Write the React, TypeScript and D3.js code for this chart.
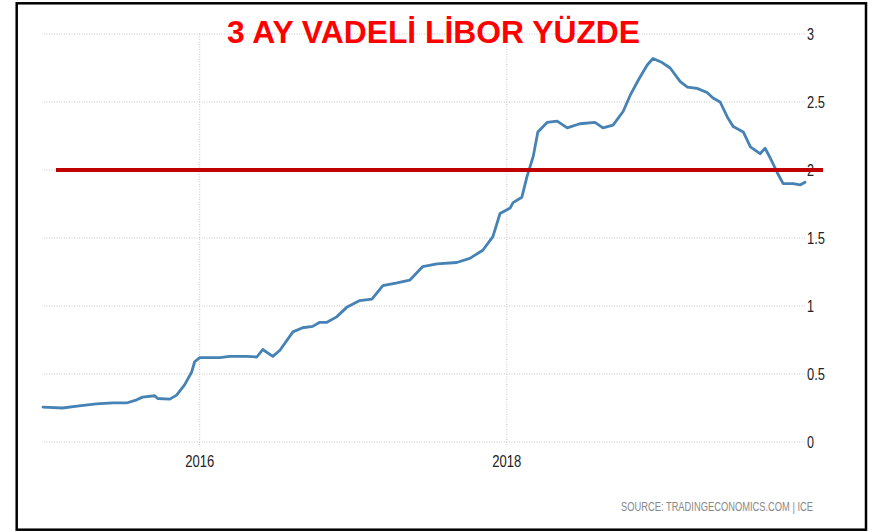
import React from "react";
import * as d3 from "d3";

const dates: string[] = [
  "2014-12-24", "2015-02-08", "2015-03-20", "2015-04-30", "2015-06-08", "2015-07-11",
  "2015-08-04", "2015-08-18", "2015-09-16", "2015-09-23", "2015-10-22", "2015-11-07",
  "2015-11-26", "2015-12-13", "2015-12-20", "2016-01-01", "2016-01-25", "2016-02-18",
  "2016-03-12", "2016-04-22", "2016-05-16", "2016-05-30", "2016-06-23", "2016-07-10",
  "2016-08-10", "2016-09-02", "2016-09-26", "2016-10-13", "2016-10-30", "2016-11-22",
  "2016-12-16", "2017-01-16", "2017-02-14", "2017-03-12", "2017-04-15", "2017-05-15",
  "2017-06-15", "2017-07-19", "2017-09-04", "2017-10-05", "2017-11-05", "2017-11-29",
  "2017-12-16", "2018-01-09", "2018-01-16", "2018-02-06", "2018-02-18", "2018-03-05",
  "2018-03-16", "2018-04-07", "2018-05-01", "2018-05-25", "2018-06-24", "2018-07-30",
  "2018-08-18", "2018-09-11", "2018-10-05", "2018-10-22", "2018-11-10", "2018-12-01",
  "2018-12-15", "2019-01-06", "2019-01-25", "2019-02-18", "2019-03-07", "2019-03-30",
  "2019-04-23", "2019-05-07", "2019-05-24", "2019-06-10", "2019-06-24", "2019-07-18",
  "2019-08-04", "2019-08-27", "2019-09-08", "2019-09-20", "2019-10-07", "2019-10-21",
  "2019-11-14", "2019-11-30", "2019-12-12",
];

const values: number[] = [
  0.257, 0.25, 0.265, 0.28, 0.287, 0.287,
  0.31, 0.33, 0.34, 0.32, 0.315, 0.345,
  0.42, 0.515, 0.59, 0.62, 0.62, 0.62,
  0.63, 0.63, 0.625, 0.68, 0.63, 0.675,
  0.81, 0.84, 0.85, 0.88, 0.88, 0.92,
  0.99, 1.04, 1.05, 1.15, 1.17, 1.19,
  1.29, 1.31, 1.32, 1.35, 1.41, 1.51,
  1.68, 1.72, 1.76, 1.8, 1.95, 2.1,
  2.28, 2.35, 2.36, 2.31, 2.34, 2.35,
  2.31, 2.33, 2.43, 2.55, 2.66, 2.77,
  2.82, 2.79, 2.75, 2.65, 2.61, 2.6,
  2.57, 2.53, 2.5, 2.39, 2.32, 2.28,
  2.17, 2.12, 2.16, 2.09, 1.98, 1.9,
  1.9, 1.89, 1.91,
];

const yTicks: number[] = [0, 0.5, 1, 1.5, 2, 2.5, 3];
const yTickLabels: string[] = ["0", "0.5", "1", "1.5", "2", "2.5", "3"];
const xTickDates: string[] = ["2016-01-01", "2018-01-01"];
const xTickLabels: string[] = ["2016", "2018"];
const referenceValue = 2;
const title = "3 AY VADELİ LİBOR YÜZDE";
const source = "SOURCE: TRADINGECONOMICS.COM | ICE";

const W = 869;
const H = 531;

export default function App() {
  const parse = d3.timeParse("%Y-%m-%d");
  const pts = dates.map((d, i) => ({ date: parse(d) as Date, value: values[i] }));
  const x = d3
    .scaleTime()
    .domain([pts[0].date, pts[pts.length - 1].date])
    .range([43, 805]);
  const y = d3.scaleLinear().domain([0, 3]).range([442, 34]);
  const line = d3
    .line<{ date: Date; value: number }>()
    .x((d) => x(d.date))
    .y((d) => y(d.value))
    .curve(d3.curveLinear);

  const narrow = "'Liberation Sans', Arial, sans-serif";

  return (
    <svg
      width={W}
      height={H}
      style={{ position: "absolute", left: 0, top: 0, background: "#fff" }}
    >
      <rect x={0} y={0} width={W} height={H} fill="#fff" />
      {/* horizontal grid */}
      {yTicks.map((t) => (
        <line
          key={"h" + t}
          x1={44}
          x2={805}
          y1={y(t)}
          y2={y(t)}
          stroke="#c8c8c8"
          strokeWidth={1}
          strokeDasharray="1,1.5"
        />
      ))}
      {/* vertical grid */}
      {xTickDates.map((d) => {
        const xx = x(parse(d) as Date);
        return (
          <line
            key={"v" + d}
            x1={xx}
            x2={xx}
            y1={34}
            y2={447}
            stroke="#c8c8c8"
            strokeWidth={1}
            strokeDasharray="1,1.5"
          />
        );
      })}
      {/* y tick labels */}
      {yTicks.map((t, i) => (
        <text
          key={"yl" + t}
          x={807}
          y={y(t) + 6}
          fontFamily={narrow}
          fontSize={16.5}
          fill="#222"
          textLength={yTickLabels[i].length === 1 ? 7 : 18}
          lengthAdjust="spacingAndGlyphs"
        >
          {yTickLabels[i]}
        </text>
      ))}
      {/* x tick labels */}
      {xTickDates.map((d, i) => (
        <text
          key={"xl" + d}
          x={x(parse(d) as Date) - 14.5}
          y={467}
          fontFamily={narrow}
          fontSize={16.5}
          fill="#222"
          textLength={29}
          lengthAdjust="spacingAndGlyphs"
        >
          {xTickLabels[i]}
        </text>
      ))}
      {/* data line */}
      <path
        d={line(pts) || ""}
        fill="none"
        stroke="#4682b4"
        strokeWidth={2.8}
        strokeLinejoin="round"
        strokeLinecap="round"
      />
      {/* reference red line */}
      <line
        x1={56}
        x2={823}
        y1={y(referenceValue)}
        y2={y(referenceValue)}
        stroke="#c00000"
        strokeWidth={4}
      />
      {/* title */}
      <text
        x={227}
        y={43}
        fontFamily="'Liberation Sans', Arial, sans-serif"
        fontWeight="bold"
        fontSize={32}
        fill="#ff0000"
        textLength={413}
        lengthAdjust="spacingAndGlyphs"
      >
        {title}
      </text>
      {/* source */}
      <text
        x={621}
        y={511}
        fontFamily={narrow}
        fontSize={12}
        fill="#888"
        textLength={192}
        lengthAdjust="spacingAndGlyphs"
      >
        {source}
      </text>
      {/* frame */}
      <rect
        x={16.7}
        y={3.3}
        width={849.3}
        height={526.4}
        fill="none"
        stroke="#000"
        strokeWidth={2.5}
      />
    </svg>
  );
}
